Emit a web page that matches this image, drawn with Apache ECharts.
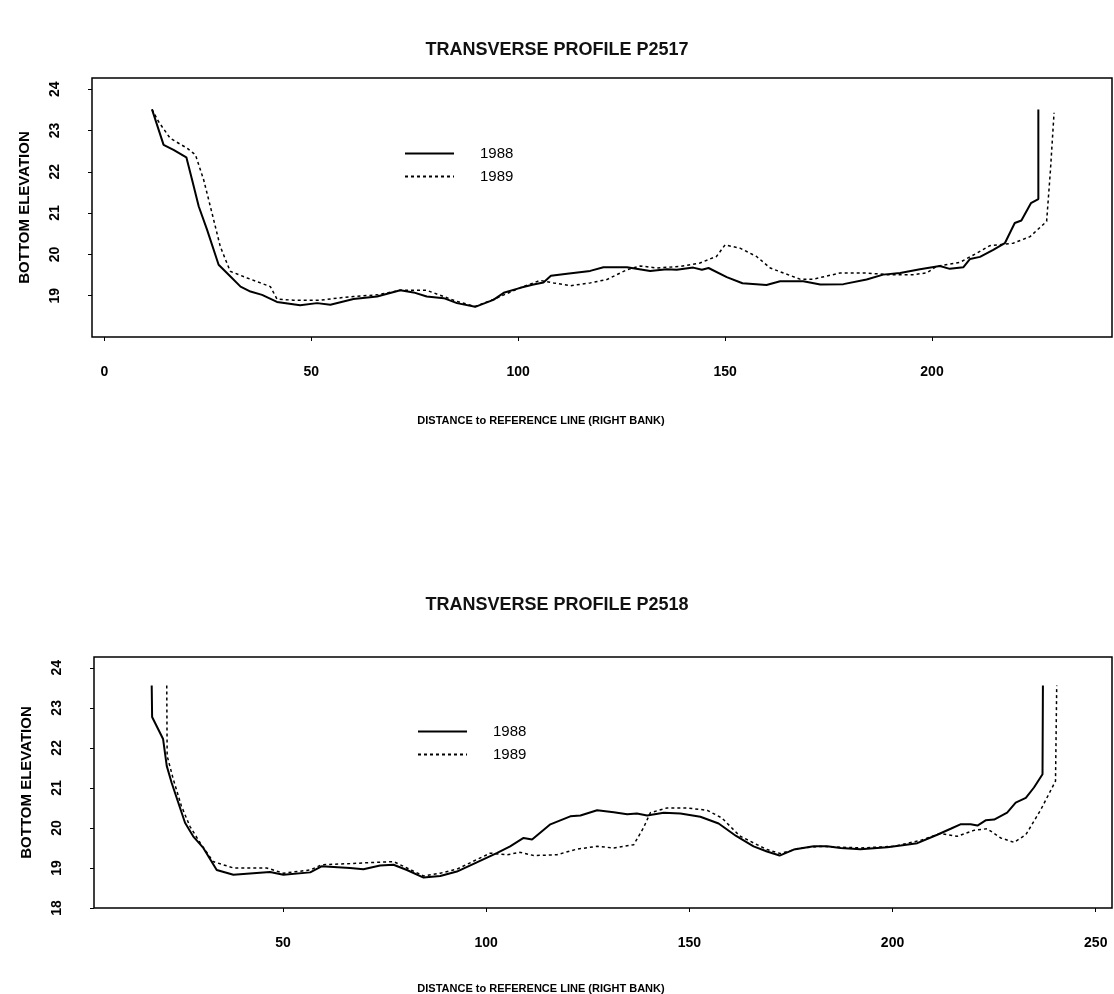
<!DOCTYPE html>
<html>
<head>
<meta charset="utf-8">
<script src="https://cdn.jsdelivr.net/npm/echarts@6/dist/echarts.min.js"></script>
<style>
  html, body { margin: 0; padding: 0; background: #fff; }
  #main { width: 1114px; height: 994px; }
</style>
</head>
<body>
<div id="main"></div>
<script>
/* profile data: [distance, bottom elevation] */
var P2517_1988 = [[11.5,23.51],[14.3,22.65],[16.7,22.53],[19.8,22.35],[21.2,21.8],[22.8,21.16],[24.8,20.6],[27.6,19.75],[30.4,19.47],[32.9,19.22],[35.3,19.1],[38.1,19.02],[41.7,18.85],[47.3,18.77],[51.4,18.82],[54.6,18.78],[60.2,18.92],[65.9,18.98],[71.5,19.13],[74.7,19.08],[77.9,18.98],[82,18.94],[85.2,18.82],[89.6,18.73],[94,18.9],[96.5,19.07],[100.5,19.19],[103.7,19.27],[106.1,19.32],[107.9,19.48],[111.8,19.53],[117.4,19.6],[120.6,19.69],[126.3,19.69],[131.9,19.6],[135.9,19.64],[138.3,19.63],[142.3,19.68],[144.4,19.63],[146,19.67],[150.4,19.45],[154.2,19.3],[160,19.26],[163.3,19.35],[168.9,19.35],[173,19.27],[178.6,19.28],[184.2,19.39],[188.2,19.51],[192.3,19.55],[197.1,19.64],[201.9,19.72],[204.3,19.65],[207.6,19.69],[209.2,19.89],[211.6,19.94],[214.8,20.11],[217.6,20.27],[220,20.76],[221.6,20.82],[223.9,21.24],[225.7,21.34],[225.7,23.51]];
var P2517_1989 = [[11.5,23.51],[13.1,23.21],[15.9,22.81],[20,22.57],[22,22.41],[24,21.8],[26,21],[28,20.19],[30.4,19.59],[34.5,19.43],[37.7,19.31],[40.1,19.22],[41.7,18.92],[45.7,18.89],[52.2,18.89],[56.2,18.94],[60.2,18.98],[65.9,19.02],[71.5,19.13],[77.9,19.13],[82,18.98],[85.2,18.86],[89.6,18.74],[94,18.91],[100.5,19.19],[105.3,19.37],[108.5,19.31],[112.6,19.24],[117.4,19.31],[121.4,19.39],[126.3,19.63],[129.5,19.72],[133.5,19.67],[139.1,19.71],[143.9,19.79],[147.9,19.95],[150,20.23],[153.6,20.15],[157.6,19.95],[160.9,19.67],[164.1,19.55],[168.1,19.4],[171.3,19.4],[177.8,19.55],[184.2,19.55],[189.1,19.51],[195.5,19.51],[198.7,19.55],[201.1,19.71],[206.8,19.81],[210.8,20.03],[214,20.21],[219.6,20.27],[223.7,20.43],[227.7,20.8],[228.6,22],[229.5,23.43]];
var P2518_1988 = [[17.7,23.56],[17.8,22.77],[20.5,22.22],[21.4,21.55],[22.6,21.13],[25.9,20.13],[27.9,19.79],[30.4,19.5],[33.7,18.95],[37.8,18.83],[42.7,18.87],[46.8,18.9],[50.1,18.83],[56.7,18.89],[59.5,19.04],[66.5,19],[69.8,18.97],[73.9,19.06],[77.2,19.08],[80.5,18.95],[84.6,18.76],[88.7,18.8],[92.8,18.91],[97.7,19.14],[102.6,19.37],[105.9,19.54],[109.2,19.75],[111.3,19.71],[115.8,20.09],[120.7,20.29],[123.2,20.31],[127.3,20.44],[131.4,20.39],[134.7,20.34],[137.1,20.36],[139.6,20.31],[143.7,20.38],[147.8,20.36],[152.7,20.28],[157.2,20.11],[161.5,19.8],[165.8,19.54],[169.1,19.41],[172.2,19.31],[175.7,19.46],[180.6,19.54],[183.9,19.54],[187.2,19.5],[192.1,19.47],[198.7,19.52],[202,19.56],[206.1,19.62],[211,19.83],[214.3,19.98],[216.7,20.09],[219.2,20.09],[220.9,20.06],[222.9,20.19],[225,20.21],[228.2,20.38],[230.3,20.63],[232.8,20.75],[234.8,21.01],[236.9,21.34],[237,23.56]];
var P2518_1989 = [[21.4,23.56],[21.5,21.8],[23,21.22],[25,20.55],[27.1,20.04],[29.6,19.63],[32.8,19.16],[37.8,19],[46,19],[50.1,18.87],[56.7,18.95],[59.5,19.08],[66.5,19.11],[77.2,19.16],[80.5,19],[84.6,18.8],[88.7,18.87],[92.8,18.97],[97.7,19.21],[101,19.37],[105.1,19.33],[108.4,19.39],[111.7,19.31],[117.4,19.33],[122.3,19.47],[127.3,19.54],[131.4,19.5],[136.3,19.58],[138.7,20],[140.4,20.38],[144.5,20.5],[149.4,20.5],[154.4,20.44],[158,20.25],[162.4,19.8],[166.7,19.58],[169.1,19.46],[172.4,19.36],[177.3,19.5],[182.3,19.54],[192.1,19.5],[200.3,19.54],[206.9,19.69],[211.8,19.86],[215.9,19.79],[220,19.94],[223.3,19.98],[226.6,19.75],[229.9,19.64],[232.8,19.83],[236.5,20.46],[240.1,21.17],[240.4,23.56]];

var YEARS = ['1988', '1989'];
var X_TICKS_TOP = [0, 50, 100, 150, 200];
var X_TICKS_BOTTOM = [50, 100, 150, 200, 250];
var Y_TICKS_TOP = [19, 20, 21, 22, 23, 24];
var Y_TICKS_BOTTOM = [18, 19, 20, 21, 22, 23, 24];

var FONT = 'Liberation Sans, Arial, sans-serif';

var SOLID = { color: '#000', width: 2, type: 'solid' };
var DOTTED = { color: '#000', width: 1.5, type: [3, 3] };

function xAxisOf(gridIndex, min, max, ticks) {
    return {
        type: 'value', gridIndex: gridIndex, min: min, max: max,
        axisLine: { show: false, onZero: false },
        axisTick: { show: true, length: 4, customValues: ticks, lineStyle: { color: '#000' } },
        axisLabel: { customValues: ticks, margin: 28, color: '#000', fontFamily: FONT, fontSize: 14, fontWeight: 'bold' },
        splitLine: { show: false }
    };
}

function yAxisOf(gridIndex, ticks) {
    return {
        type: 'value', gridIndex: gridIndex, min: 18, max: 24.27,
        name: 'BOTTOM ELEVATION', nameLocation: 'middle', nameRotate: 90, nameGap: 60,
        nameTextStyle: { color: '#000', fontFamily: FONT, fontSize: 15, fontWeight: 'bold' },
        axisLine: { show: false, onZero: false },
        axisTick: { show: true, length: 4, customValues: ticks, lineStyle: { color: '#000' } },
        axisLabel: { customValues: ticks, rotate: 90, margin: 30, color: '#000', fontFamily: FONT, fontSize: 14, fontWeight: 'bold' },
        splitLine: { show: false }
    };
}

function legendOf(left, top) {
    return {
        data: YEARS, orient: 'vertical', left: left, top: top,
        itemWidth: 49, itemHeight: 14, itemGap: 8,
        selectedMode: false,
        itemStyle: { opacity: 0 },
        textStyle: { color: '#000', fontFamily: FONT, fontSize: 15, padding: [0, 0, 0, 21] }
    };
}

function lineOf(name, idx, data, style) {
    return {
        name: name, type: 'line', xAxisIndex: idx, yAxisIndex: idx,
        data: data, symbol: 'none', lineStyle: style, itemStyle: { color: '#000' },
        animation: false
    };
}

var option = {
    backgroundColor: '#fff',
    title: [
        { text: 'TRANSVERSE PROFILE P2517', left: 'center', top: 36, textStyle: { color: '#111', fontFamily: FONT, fontSize: 18, fontWeight: 'bold' } },
        { text: 'TRANSVERSE PROFILE P2518', left: 'center', top: 591, textStyle: { color: '#111', fontFamily: FONT, fontSize: 18, fontWeight: 'bold' } },
        { text: 'DISTANCE to REFERENCE LINE (RIGHT BANK)', left: 536, top: 410, textAlign: 'center', textStyle: { color: '#000', fontFamily: FONT, fontSize: 11, fontWeight: 'bold' } },
        { text: 'DISTANCE to REFERENCE LINE (RIGHT BANK)', left: 536, top: 978, textAlign: 'center', textStyle: { color: '#000', fontFamily: FONT, fontSize: 11, fontWeight: 'bold' } }
    ],
    legend: [legendOf(399, 141), legendOf(412, 719)],
    grid: [
        { left: 92, top: 78, width: 1020, height: 259, show: true, borderColor: '#000', borderWidth: 1.5 },
        { left: 94, top: 657, width: 1018, height: 251, show: true, borderColor: '#000', borderWidth: 1.5 }
    ],
    xAxis: [xAxisOf(0, -3, 243.5, X_TICKS_TOP), xAxisOf(1, 3.5, 254, X_TICKS_BOTTOM)],
    yAxis: [yAxisOf(0, Y_TICKS_TOP), yAxisOf(1, Y_TICKS_BOTTOM)],
    series: [
        lineOf(YEARS[0], 0, P2517_1988, SOLID),
        lineOf(YEARS[1], 0, P2517_1989, DOTTED),
        lineOf(YEARS[0], 1, P2518_1988, SOLID),
        lineOf(YEARS[1], 1, P2518_1989, DOTTED)
    ]
};

var chart = echarts.init(document.getElementById('main'));
chart.setOption(option);
</script>
</body>
</html>
